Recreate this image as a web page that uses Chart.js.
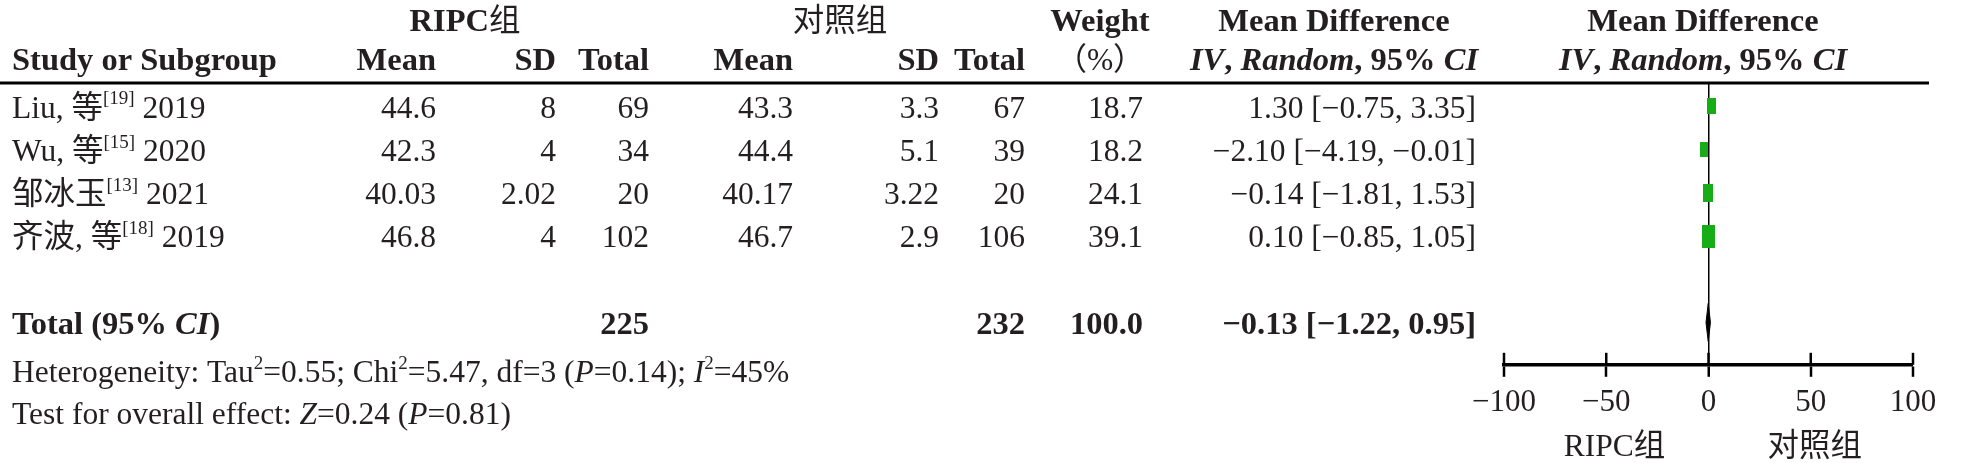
<!DOCTYPE html>
<html>
<head>
<meta charset="utf-8">
<script src="https://cdn.jsdelivr.net/npm/chart.js@4.4.0/dist/chart.umd.min.js"></script>
<style>
  html, body { margin: 0; padding: 0; background: #fff; }
</style>
</head>
<body>
<canvas id="forestChart" width="1964" height="463"></canvas>
<script>
// study data
const studyNames = ['Liu, 等', 'Wu, 等', '邹冰玉', '齐波, 等'];
const studyRefs = ['[19]', '[15]', '[13]', '[18]'];
const studyYears = ['2019', '2020', '2021', '2019'];
const ripcMean = [44.6, 42.3, 40.03, 46.8];
const ripcSD = [8, 4, 2.02, 4];
const ripcTotal = [69, 34, 20, 102];
const ctrlMean = [43.3, 44.4, 40.17, 46.7];
const ctrlSD = [3.3, 5.1, 3.22, 2.9];
const ctrlTotal = [67, 39, 20, 106];
const weights = [18.7, 18.2, 24.1, 39.1];
const mdEst = [1.30, -2.10, -0.14, 0.10];
const mdLow = [-0.75, -4.19, -1.81, -0.85];
const mdHigh = [3.35, -0.01, 1.53, 1.05];

// pooled result
const pooledMD = [-0.13, -1.22, 0.95]; // estimate, lower, upper
const pooledTotals = [225, 232, 100.0];

const xTicks = [-100, -50, 0, 50, 100];
const studyRows = [1, 2, 3, 4];
const totalRow = 6;

const FAMILY = "'Liberation Serif', 'Noto Sans CJK SC', serif";
const TEXT = '#231f20';
const GREEN = '#17ad17';
const TEXT_DY = 3;

function minus(s) { return String(s).replace(/-/g, '−'); }

// run helpers: regular, bold, italic, bold italic, superscript
const R = t => ({ t });
const B = t => ({ t, b: true });
const I = t => ({ t, i: true });
const BI = t => ({ t, b: true, i: true });
const S = t => ({ t, sup: true });

function fontFor(r) {
    const size = r.sup ? 19 : (r.b ? 32.5 : 31.5);
    return (r.i ? 'italic ' : '') + (r.b ? 'bold ' : '') + size + 'px ' + FAMILY;
}

function drawRuns(ctx, runs, x, y, align) {
    const widths = runs.map(r => { ctx.font = fontFor(r); return ctx.measureText(r.t).width; });
    const total = widths.reduce((a, b) => a + b, 0);
    let cx = align === 'right' ? x - total : align === 'center' ? x - total / 2 : x;
    runs.forEach((r, i) => {
        ctx.font = fontFor(r);
        ctx.fillText(r.t, cx, y + TEXT_DY + (r.sup ? -10 : 0));
        cx += widths[i];
    });
}

// weighted boxes (original is squashed horizontally)
const boxes = weights.map(w => {
    const h = Math.round(3.6 * Math.sqrt(w));
    const c = document.createElement('canvas');
    c.width = Math.round(h * 0.55);
    c.height = h;
    const g = c.getContext('2d');
    g.fillStyle = GREEN;
    g.fillRect(0, 0, c.width, c.height);
    return c;
});

const tablePlugin = {
    id: 'tablePlugin',
    afterDraw(chart) {
        const ctx = chart.ctx;
        const ys = chart.scales.y;
        const xs = chart.scales.x;
        const area = chart.chartArea;
        ctx.save();
        ctx.fillStyle = TEXT;
        ctx.textBaseline = 'middle';

        // header
        const h1 = ys.getPixelForValue(-1);
        const h2 = ys.getPixelForValue(-0.1);
        drawRuns(ctx, [B('RIPC'), R('组')], 465, h1, 'center');
        drawRuns(ctx, [R('对照组')], 840, h1, 'center');
        drawRuns(ctx, [B('Weight')], 1100, h1, 'center');
        drawRuns(ctx, [B('Mean Difference')], 1334, h1, 'center');
        drawRuns(ctx, [B('Mean Difference')], 1703, h1, 'center');
        drawRuns(ctx, [B('Study or Subgroup')], 12, h2, 'left');
        drawRuns(ctx, [B('Mean')], 436, h2, 'right');
        drawRuns(ctx, [B('SD')], 556, h2, 'right');
        drawRuns(ctx, [B('Total')], 649, h2, 'right');
        drawRuns(ctx, [B('Mean')], 793, h2, 'right');
        drawRuns(ctx, [B('SD')], 939, h2, 'right');
        drawRuns(ctx, [B('Total')], 1025, h2, 'right');
        drawRuns(ctx, [R('（%）')], 1100, h2, 'center');
        const ivRuns = [BI('IV'), B(', '), BI('Random'), B(', 95% '), BI('CI')];
        drawRuns(ctx, ivRuns, 1334, h2, 'center');
        drawRuns(ctx, ivRuns, 1703, h2, 'center');

        // study rows
        studyRows.forEach((row, i) => {
            const y = ys.getPixelForValue(row);
            drawRuns(ctx, [R(studyNames[i]), S(studyRefs[i]), R(' ' + studyYears[i])], 12, y, 'left');
            drawRuns(ctx, [R(String(ripcMean[i]))], 436, y, 'right');
            drawRuns(ctx, [R(String(ripcSD[i]))], 556, y, 'right');
            drawRuns(ctx, [R(String(ripcTotal[i]))], 649, y, 'right');
            drawRuns(ctx, [R(String(ctrlMean[i]))], 793, y, 'right');
            drawRuns(ctx, [R(String(ctrlSD[i]))], 939, y, 'right');
            drawRuns(ctx, [R(String(ctrlTotal[i]))], 1025, y, 'right');
            drawRuns(ctx, [R(weights[i].toFixed(1))], 1143, y, 'right');
            const ci = minus(mdEst[i].toFixed(2)) + ' [' + minus(mdLow[i].toFixed(2)) + ', ' + minus(mdHigh[i].toFixed(2)) + ']';
            drawRuns(ctx, [R(ci)], 1476, y, 'right');
        });

        // total row
        const ty = ys.getPixelForValue(totalRow);
        drawRuns(ctx, [B('Total (95% '), BI('CI'), B(')')], 12, ty, 'left');
        drawRuns(ctx, [B(String(pooledTotals[0]))], 649, ty, 'right');
        drawRuns(ctx, [B(String(pooledTotals[1]))], 1025, ty, 'right');
        drawRuns(ctx, [B(pooledTotals[2].toFixed(1))], 1143, ty, 'right');
        const pci = minus(pooledMD[0].toFixed(2)) + ' [' + minus(pooledMD[1].toFixed(2)) + ', ' + minus(pooledMD[2].toFixed(2)) + ']';
        drawRuns(ctx, [B(pci)], 1476, ty, 'right');

        drawRuns(ctx, [R('Heterogeneity: Tau'), S('2'), R('=0.55; Chi'), S('2'), R('=5.47, df=3 ('), I('P'),
            R('=0.14); '), I('I'), S('2'), R('=45%')], 12, ys.getPixelForValue(7.12), 'left');
        drawRuns(ctx, [R('Test for overall effect: '), I('Z'), R('=0.24 ('), I('P'), R('=0.81)')],
            12, ys.getPixelForValue(8.08), 'left');

        // favours labels
        drawRuns(ctx, [R('RIPC组')], xs.getPixelForValue(-46), 445, 'center');
        drawRuns(ctx, [R('对照组')], xs.getPixelForValue(52), 445, 'center');

        // header rule
        ctx.strokeStyle = '#000';
        ctx.lineWidth = 3;
        ctx.beginPath();
        ctx.moveTo(0, area.top);
        ctx.lineTo(1929, area.top);
        ctx.stroke();

        // upper half of the axis ticks
        ctx.lineWidth = 2.5;
        xs.ticks.forEach(t => {
            const px = xs.getPixelForValue(t.value);
            ctx.beginPath();
            ctx.moveTo(px, area.bottom - 12);
            ctx.lineTo(px, area.bottom);
            ctx.stroke();
        });
        ctx.restore();
    }
};

const datasets = [{
    type: 'scatter',
    data: studyRows.map((row, i) => ({ x: mdEst[i], y: row })),
    pointStyle: c => boxes[c.dataIndex],
    pointRadius: 8,
    order: 0
}];

studyRows.forEach((row, i) => {
    datasets.push({
        type: 'line',
        data: [{ x: mdLow[i], y: row }, { x: mdHigh[i], y: row }],
        borderColor: '#000',
        borderWidth: 2,
        pointRadius: 0,
        order: 1
    });
});

datasets.push({
    type: 'line',
    data: [
        { x: pooledMD[1], y: totalRow },
        { x: pooledMD[0], y: totalRow - 0.44 },
        { x: pooledMD[2], y: totalRow },
        { x: pooledMD[0], y: totalRow + 0.44 },
        { x: pooledMD[1], y: totalRow }
    ],
    borderColor: '#000',
    backgroundColor: '#000',
    borderWidth: 1,
    pointRadius: 0,
    fill: 'shape',
    order: 1
});

new Chart(document.getElementById('forestChart'), {
    type: 'scatter',
    data: { datasets },
    options: {
        responsive: false,
        animation: false,
        events: [],
        layout: { padding: { left: 1504, right: 51, top: 83, bottom: 35 } },
        plugins: { legend: { display: false }, tooltip: { enabled: false } },
        scales: {
            x: {
                type: 'linear',
                min: -100,
                max: 100,
                afterBuildTicks: axis => { axis.ticks = xTicks.map(v => ({ value: v })); },
                border: { display: true, color: '#000', width: 3.5 },
                grid: {
                    drawOnChartArea: true,
                    color: c => (c.tick && c.tick.value === 0 ? '#000' : 'rgba(0,0,0,0)'),
                    lineWidth: c => (c.tick && c.tick.value === 0 ? 1.5 : 0),
                    tickColor: '#000',
                    tickWidth: 2.5,
                    tickLength: 12
                },
                ticks: {
                    color: TEXT,
                    font: { family: FAMILY, size: 31 },
                    padding: 7,
                    maxRotation: 0,
                    autoSkip: false,
                    callback: v => minus(v)
                }
            },
            y: {
                type: 'linear',
                display: false,
                reverse: true,
                min: 0.46,
                max: 6.98
            }
        }
    },
    plugins: [tablePlugin]
});
</script>
</body>
</html>
